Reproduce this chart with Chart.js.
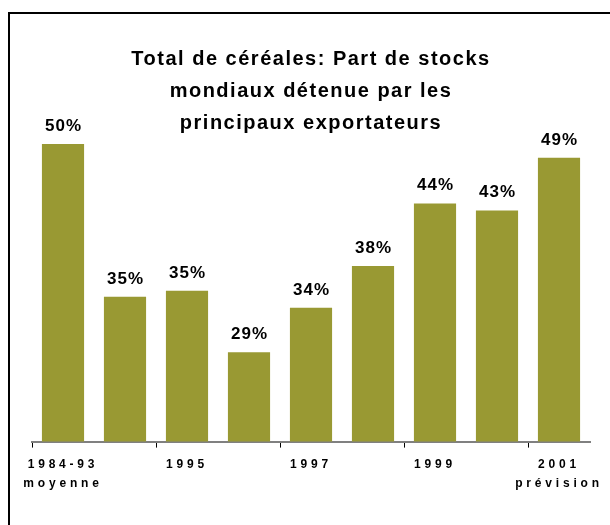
<!DOCTYPE html>
<html>
<head>
<meta charset="utf-8">
<script src="https://cdn.jsdelivr.net/npm/chart.js@4/dist/chart.umd.min.js"></script>
<style>
  html, body { margin: 0; padding: 0; background: #fff; }
  #wrap { position: relative; width: 610px; height: 525px; overflow: hidden; }
  #frame { position: absolute; left: 8px; top: 12px; width: 700px; height: 600px;
           border-left: 2px solid #000; border-top: 2px solid #000; box-sizing: border-box; }
  #c { position: absolute; left: 0; top: 0; }
</style>
</head>
<body>
<div id="wrap">
  <div id="frame"></div>
  <canvas id="c" width="610" height="525"></canvas>
</div>
<script>
const categories = ['1984-93', '1994', '1995', '1996', '1997', '1998', '1999', '2000', '2001'];
const shareValues = [50, 34.6, 35.2, 29, 33.5, 37.7, 44, 43.3, 48.6];
const tickLabels = [['1984-93', 'moyenne'], '', '1995', '', '1997', '', '1999', '', ['2001', 'prévision']];
const titleLines = ['Total de céréales: Part de stocks', 'mondiaux détenue par les', 'principaux exportateurs'];

const FONT = '"Liberation Sans", Arial, Helvetica, sans-serif';

const spacingPlugin = {
  id: 'spacing',
  beforeDraw(chart) {
    chart.ctx.letterSpacing = '1.5px';
  },
  afterDatasetsDraw(chart) {
    const ctx = chart.ctx;
    const meta = chart.getDatasetMeta(0);
    ctx.save();
    ctx.letterSpacing = '1px';
    ctx.font = 'bold 17px ' + FONT;
    ctx.fillStyle = '#000';
    ctx.textAlign = 'center';
    ctx.textBaseline = 'alphabetic';
    meta.data.forEach((bar, i) => {
      const txt = Math.round(shareValues[i]) + '%';
      ctx.fillText(txt, bar.x + 0.5, bar.y - 13);
    });
    ctx.restore();
    ctx.letterSpacing = '3.8px';
  },
  afterDraw(chart) {
    chart.ctx.letterSpacing = '0px';
  }
};

new Chart(document.getElementById('c'), {
  type: 'bar',
  data: {
    labels: categories,
    datasets: [{
      data: shareValues,
      backgroundColor: '#999933',
      borderWidth: 0,
      barPercentage: 0.68,
      categoryPercentage: 1
    }]
  },
  options: {
    responsive: false,
    animation: false,
    layout: { padding: { left: 32, right: 20, top: 0, bottom: 25 } },
    plugins: {
      legend: { display: false },
      tooltip: { enabled: false },
      title: {
        display: true,
        text: titleLines,
        color: '#000',
        font: { family: FONT, size: 20, weight: 'bold', lineHeight: 1.6 },
        padding: { top: 43, bottom: 0 }
      }
    },
    scales: {
      x: {
        offset: true,
        grid: {
          offset: true,
          drawOnChartArea: false,
          drawTicks: true,
          tickLength: 6,
          lineWidth: 1,
          color: (c) => (c.index !== undefined && c.index % 2 === 0) ? '#000' : 'rgba(0,0,0,0)'
        },
        border: { display: true, color: '#808080', width: 2 },
        ticks: {
          z: 1,
          autoSkip: false,
          maxRotation: 0,
          minRotation: 0,
          padding: 7,
          color: '#000',
          font: { family: FONT, size: 12, weight: 'bold', lineHeight: 1.6 },
          callback: (v, i) => tickLabels[i]
        }
      },
      y: {
        display: false,
        min: 20,
        max: 50.5
      }
    }
  },
  plugins: [spacingPlugin]
});
</script>
</body>
</html>
